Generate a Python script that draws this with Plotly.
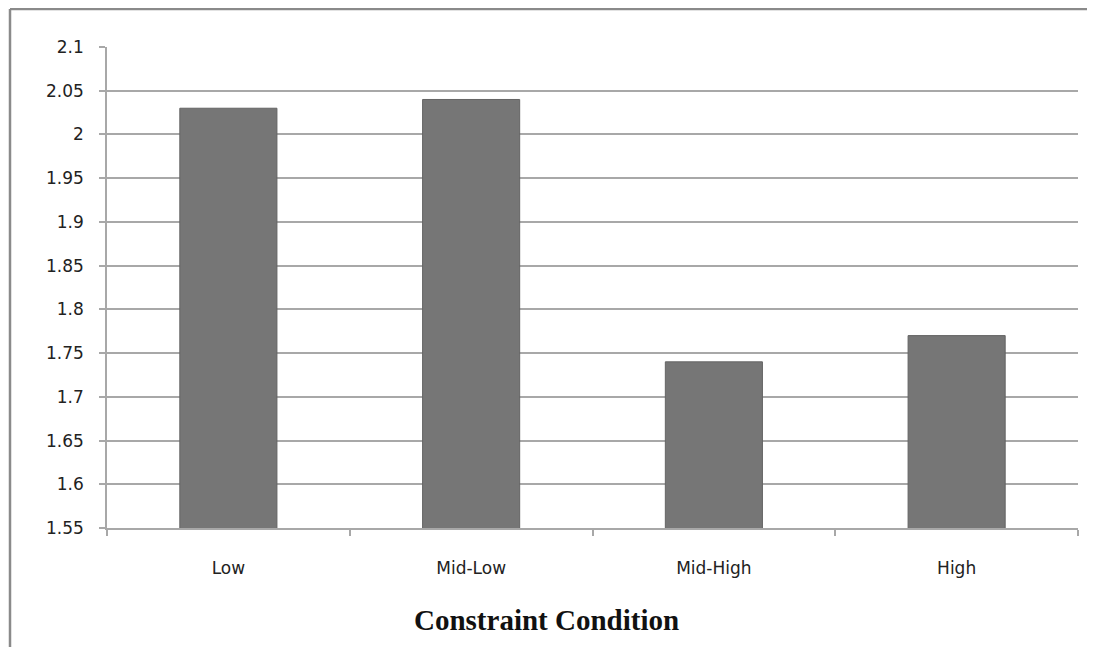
import plotly.graph_objects as go

categories = ["Low", "Mid-Low", "Mid-High", "High"]
values = [2.03, 2.04, 1.74, 1.77]
y_ticks = [1.55, 1.6, 1.65, 1.7, 1.75, 1.8, 1.85, 1.9, 1.95, 2, 2.05, 2.1]
y_tick_text = ["1.55", "1.6", "1.65", "1.7", "1.75", "1.8", "1.85", "1.9", "1.95", "2", "2.05", "2.1"]
x_title = "Constraint Condition"

W, H = 1087, 639
L, R, T, B = 99, 17, 39, 119
pw, ph = W - L - R, H - T - B

fig = go.Figure(
    go.Bar(
        x=categories,
        y=values,
        marker=dict(color="#767676", line=dict(color="#646464", width=1)),
    )
)

fig.update_layout(
    width=W,
    height=H,
    margin=dict(l=L, r=R, t=T, b=B),
    paper_bgcolor="white",
    plot_bgcolor="white",
    bargap=0.6,
    showlegend=False,
    font=dict(family="DejaVu Sans", size=14, color="#222222"),
    shapes=[
        dict(type="line", xref="paper", yref="paper", x0=-(L - 2) / pw, x1=1.1, y0=1 + (T - 1) / ph, y1=1 + (T - 1) / ph,
             line=dict(color="#8a8a8a", width=2.5)),
        dict(type="line", xref="paper", yref="paper", x0=-(L - 2) / pw, x1=-(L - 2) / pw, y0=1 + (T - 1) / ph, y1=-0.3,
             line=dict(color="#8a8a8a", width=2.5)),
    ],
    annotations=[
        dict(text="<b>" + x_title + "</b>", xref="paper", yref="paper",
             x=(538 - L) / pw, y=(H - B - 612) / ph, xanchor="center", yanchor="middle",
             showarrow=False, font=dict(family="Liberation Serif", size=29, color="#111111")),
    ],
)

fig.update_xaxes(
    showline=True,
    linecolor="#a8a8a8",
    linewidth=1.5,
    ticks="outside",
    tickson="boundaries",
    ticklen=6,
    tickcolor="#a8a8a8",
    tickwidth=1.5,
    showgrid=False,
    ticklabelstandoff=24,
    tickfont=dict(size=17, color="#222222"),
)

fig.update_yaxes(
    range=[1.55, 2.1],
    tickvals=y_ticks,
    ticktext=y_tick_text,
    showline=True,
    linecolor="#a8a8a8",
    linewidth=1.5,
    ticks="outside",
    ticklen=6,
    tickcolor="#a8a8a8",
    tickwidth=1.5,
    showgrid=True,
    gridcolor="#a8a8a8",
    gridwidth=1.5,
    zeroline=False,
    ticklabelstandoff=12,
    tickfont=dict(size=17, color="#222222"),
)

fig.write_html("out.html")
